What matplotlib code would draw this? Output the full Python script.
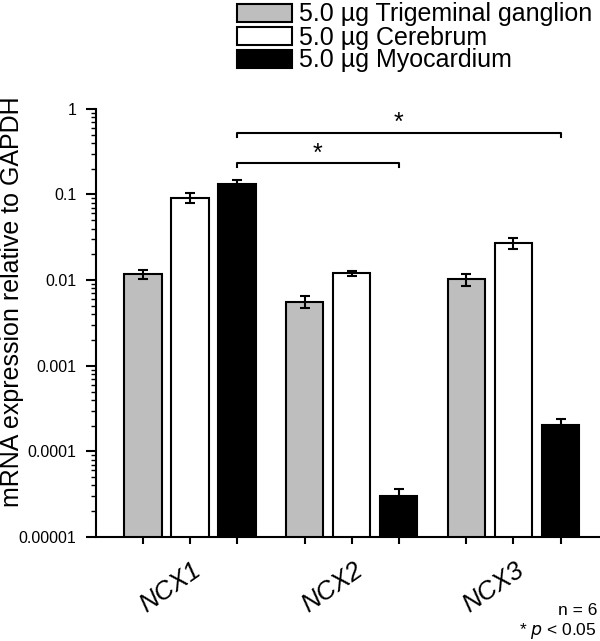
import matplotlib.pyplot as plt
from matplotlib import rcParams
import numpy as np

# Data
genes = ["NCX1", "NCX2", "NCX3"]
tissues = ["5.0 \u00b5g Trigeminal ganglion", "5.0 \u00b5g Cerebrum", "5.0 \u00b5g Myocardium"]
trigeminal = [0.0117, 0.0056, 0.0102]
trigeminal_err = [0.0015, 0.0009, 0.0017]
cerebrum = [0.092, 0.0121, 0.0272]
cerebrum_err = [0.013, 0.0008, 0.0042]
myocardium = [0.132, 3.04e-5, 2.05e-4]
myocardium_err = [0.015, 0.56e-5, 0.32e-4]

colors = ["#bebebe", "white", "black"]

if __name__ == "__main__":
    rcParams.update({"font.family": ["Liberation Sans", "DejaVu Sans"], "font.size": 15})
    fig = plt.figure(figsize=(6.0, 6.41), dpi=100)
    ax = fig.add_axes([0.16, 0.1622, 0.84, 0.668])

    values = [trigeminal, cerebrum, myocardium]
    errors = [trigeminal_err, cerebrum_err, myocardium_err]
    group_step = 3.44
    width = 0.79
    all_pos = []
    for j in range(3):
        pos = np.arange(len(genes)) * group_step + j
        all_pos.extend(pos)
        ax.bar(pos, values[j], width=width, color=colors[j], edgecolor="black",
               linewidth=1.5, label=tissues[j], zorder=2)
        ax.errorbar(pos, values[j], yerr=errors[j], fmt="none", ecolor="black",
                    elinewidth=1.5, capsize=3.5, capthick=1.5, zorder=3)

    ax.set_yscale("log")
    ax.set_ylim(1e-5, 1)
    ax.set_xlim(-1, 9.72)
    ax.set_yticks([1e-5, 1e-4, 1e-3, 1e-2, 1e-1, 1])
    ax.set_yticklabels(["0.00001", "0.0001", "0.001", "0.01", "0.1", "1"])
    ax.set_xticks(sorted(all_pos))
    ax.set_xticklabels([])
    ax.tick_params(axis="y", which="major", length=7, width=1.5, labelsize=11.5, pad=7)
    ax.tick_params(axis="y", which="minor", length=3.5, width=1)
    ax.tick_params(axis="x", length=5, width=1.5)
    ax.spines["top"].set_visible(False)
    ax.spines["right"].set_visible(False)
    ax.spines["left"].set_linewidth(1.5)
    ax.spines["bottom"].set_linewidth(1.5)
    fig.text(0.02, 0.53, "mRNA expression relative to GAPDH", rotation=90,
             ha="center", va="center", fontsize=18)

    # Gene labels
    for i, g in enumerate(genes):
        ax.text(i * group_step + 1 - 0.42, -0.117, g, transform=ax.get_xaxis_transform(),
                rotation=35, ha="center", va="center", fontsize=18.5, style="italic")

    # Significance brackets
    def bracket(x1, x2, y, star_y):
        drop = 0.9
        ax.plot([x1, x1, x2, x2], [y * drop, y, y, y * drop], color="black", lw=1.5,
                clip_on=False)
        ax.text((x1 + x2) / 2, star_y, "*", ha="center", va="center", fontsize=18)

    bracket(2, group_step + 2, 0.234, 0.30)
    bracket(2, 2 * group_step + 2, 0.525, 0.68)

    # Legend
    fig.legend(loc="upper left", bbox_to_anchor=(0.39, 1.0), frameon=False, fontsize=18,
               handlelength=2.2, handleheight=0.75, handletextpad=0.3, labelspacing=-0.04,
               borderaxespad=0, borderpad=0.1)

    fig.text(0.995, 0.047, "n = 6", ha="right", va="center", fontsize=12.5)
    fig.text(0.995, 0.016, "* $\\it{p}$ < 0.05", ha="right", va="center", fontsize=12.5)

    plt.savefig("out.png", dpi=100)
